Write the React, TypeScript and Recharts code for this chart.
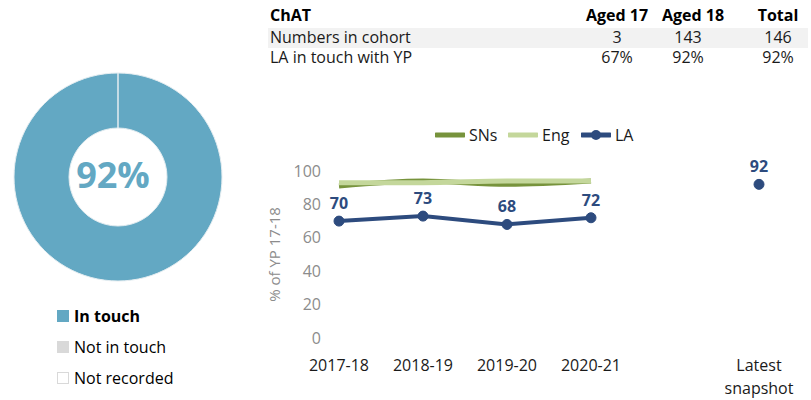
import { PieChart, Pie, Cell, LineChart, Line, XAxis, YAxis, LabelList, Text } from "recharts";

// line chart
const categories = ["2017-18", "2018-19", "2019-20", "2020-21", "", "Latest snapshot"];
const snsValues = [91, 94, 92, 94, null, null];
const engValues = [93, 93, 94, 94, null, null];
const laValues = [70, 73, 68, 72, null, 92];
const yTicks = [0, 20, 40, 60, 80, 100];

// donut
const donutNames = ["In touch", "Not in touch", "Not recorded"];
const donutValues = [100, 0, 0];
const donutColors = ["#63a8c3", "#d9d9d9", "#ffffff"];
const donutCentreLabel = "92%";

// table
const tableTitle = "ChAT";
const tableColumns = ["Aged 17", "Aged 18", "Total"];
const tableRowNames = ["Numbers in cohort", "LA in touch with YP"];
const cohortNumbers = ["3", "143", "146"];
const inTouchPct = ["67%", "92%", "92%"];

const FONT = "'Open Sans', 'Noto Sans', sans-serif";
const LA_COLOR = "#2d4b7e";
const SNS_COLOR = "#77933c";
const ENG_COLOR = "#c4d79b";

const lineData = categories.map((c, i) => ({
    name: c,
    SNs: snsValues[i],
    Eng: engValues[i],
    LA: laValues[i],
}));

const donutData = donutNames.map((n, i) => ({ name: n, value: donutValues[i] }));

const colCentres = [617, 688, 778];

function XTick({ x, y, payload }: any) {
    return (
        <Text x={x} y={y} dy={14} width={50} textAnchor="middle" verticalAnchor="start"
            lineHeight={23} fontSize={16} fill="#1a1a1a" fontFamily={FONT}>
            {payload.value}
        </Text>
    );
}

function LineLegend() {
    const items = [
        { name: "SNs", color: SNS_COLOR, dot: false, left: 435 },
        { name: "Eng", color: ENG_COLOR, dot: false, left: 508 },
        { name: "LA", color: LA_COLOR, dot: true, left: 581 },
    ];
    return (
        <>
            {items.map((it) => (
                <div key={it.name} style={{ position: "absolute", left: it.left, top: 124, height: 22, display: "flex", alignItems: "center" }}>
                    <svg width={30} height={12}>
                        <line x1={1} y1={6} x2={29} y2={6} stroke={it.color} strokeWidth={5} strokeLinecap="round" />
                        {it.dot && <circle cx={15} cy={6} r={5} fill={it.color} />}
                    </svg>
                    <span style={{ marginLeft: 4, fontSize: 16, color: "#1a1a1a" }}>{it.name}</span>
                </div>
            ))}
        </>
    );
}

export default function App() {
    return (
        <div style={{ position: "absolute", left: 0, top: 0, width: 811, height: 400, background: "#fff", fontFamily: FONT, overflow: "hidden" }}>
            {/* table */}
            <div style={{ position: "absolute", left: 268, top: 28, width: 540, height: 20, background: "#f2f2f2" }} />
            <div style={{ position: "absolute", left: 270, top: 4, fontSize: 16, fontWeight: 700, color: "#000" }}>{tableTitle}</div>
            {tableColumns.map((c, i) => (
                <div key={c} style={{ position: "absolute", left: colCentres[i] - 50 + (i === 1 ? 5 : 0), width: 100, top: 4, textAlign: "center", fontSize: 16, fontWeight: 700, color: "#000" }}>{c}</div>
            ))}
            {tableRowNames.map((r, ri) => (
                <div key={r} style={{ position: "absolute", left: 270, top: 26 + ri * 20, fontSize: 16, color: "#1a1a1a" }}>{r}</div>
            ))}
            {[cohortNumbers, inTouchPct].map((row, ri) =>
                row.map((v, i) => (
                    <div key={ri + "-" + i} style={{ position: "absolute", left: colCentres[i] - 50, width: 100, top: 26 + ri * 20, textAlign: "center", fontSize: 16, color: "#1a1a1a" }}>{v}</div>
                ))
            )}

            {/* donut */}
            <div style={{ position: "absolute", left: 0, top: 60 }}>
                <PieChart width={226} height={224}>
                    <Pie
                        data={donutData}
                        dataKey="value"
                        nameKey="name"
                        cx={113}
                        cy={112}
                        innerRadius={49}
                        outerRadius={104}
                        startAngle={90}
                        endAngle={-270}
                        stroke="#e4edf1"
                        strokeWidth={1}
                        isAnimationActive={false}
                    >
                        {donutData.map((d, i) => (
                            <Cell key={d.name} fill={donutColors[i]} />
                        ))}
                    </Pie>
                    <text x={113} y={114} textAnchor="middle" dominantBaseline="central" fontSize={36} fontWeight={700} fill={donutColors[0]} fontFamily={FONT}>
                        {donutCentreLabel}
                    </text>
                </PieChart>
            </div>
            {donutNames.map((n, i) => (
                <div key={n} style={{ position: "absolute", left: 57, top: 305 + i * 31, height: 22, display: "flex", alignItems: "center" }}>
                    <div style={{ width: 10, height: 10, background: donutColors[i], border: i === 2 ? "1px solid #d9d9d9" : "1px solid " + donutColors[i] }} />
                    <span style={{ marginLeft: 5, fontSize: 16, fontWeight: i === 0 ? 700 : 400, color: "#000" }}>{n}</span>
                </div>
            ))}

            {/* line chart */}
            <LineLegend />
            <div style={{ position: "absolute", left: 260, top: 110 }}>
                <LineChart width={551} height={290} data={lineData} margin={{ top: 61, right: 52, bottom: 12, left: 19 }}>
                    <XAxis dataKey="name" axisLine={false} tickLine={false} interval={0} height={50} tick={<XTick />} />
                    <YAxis
                        domain={[0, 100]}
                        ticks={yTicks}
                        width={60}
                        axisLine={false}
                        tickLine={false}
                        tickMargin={12}
                        tick={{ fontSize: 16, fill: "#8c8c8c", fontFamily: FONT }}
                        label={{ value: "% of YP 17-18", angle: -90, position: "insideLeft", offset: -4, style: { textAnchor: "middle", fontSize: 15, fill: "#8c8c8c", fontFamily: FONT } }}
                    />
                    <Line type="monotone" dataKey="SNs" stroke={SNS_COLOR} strokeWidth={5} dot={false} isAnimationActive={false} />
                    <Line type="monotone" dataKey="Eng" stroke={ENG_COLOR} strokeWidth={5} dot={false} isAnimationActive={false} />
                    <Line type="linear" dataKey="LA" stroke={LA_COLOR} strokeWidth={4} dot={{ r: 5, fill: LA_COLOR, stroke: LA_COLOR, strokeWidth: 1 }} isAnimationActive={false}>
                        <LabelList dataKey="LA" position="top" offset={12} fontSize={16} fontWeight={700} fill={LA_COLOR} fontFamily={FONT} />
                    </Line>
                </LineChart>
            </div>
        </div>
    );
}
